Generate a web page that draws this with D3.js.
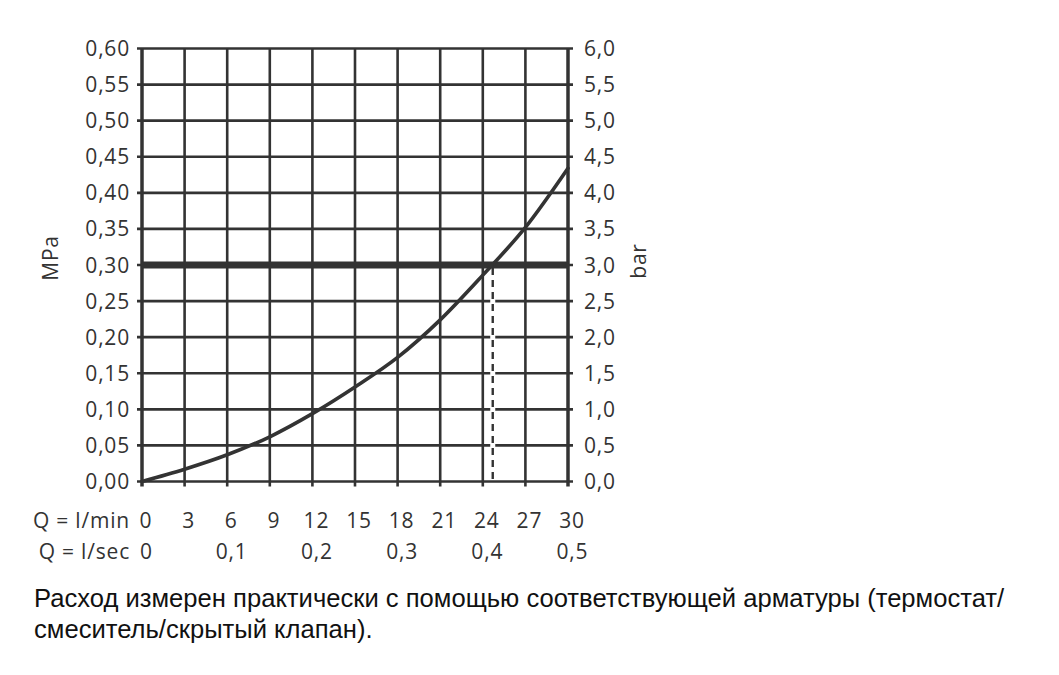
<!DOCTYPE html>
<html><head><meta charset="utf-8">
<script src="https://cdn.jsdelivr.net/npm/d3@7"></script>
<style>
html,body{margin:0;padding:0;background:#fff;}
svg{display:block;}
</style></head>
<body>
<svg id="c" width="1059" height="675"></svg>
<script>
// ---- data ----
const flowTicksLpm = [0,3,6,9,12,15,18,21,24,27,30];
const flowTicksLps = [0,0.1,0.2,0.3,0.4,0.5];
const mpaTicks = [0,0.05,0.10,0.15,0.20,0.25,0.30,0.35,0.40,0.45,0.50,0.55,0.60];
const barTicks = [0,0.5,1.0,1.5,2.0,2.5,3.0,3.5,4.0,4.5,5.0,5.5,6.0];
const curveFlow = [0,3,6,9,12,15,18,21,24,27,30];
const curvePressure = [0,0.017,0.037,0.062,0.094,0.131,0.172,0.224,0.286,0.352,0.434];
const refPressure = [0.30];
const refFlow = [24.7];
const caption = ["Расход измерен практически с помощью соответствующей арматуры (термостат/",
                 "смеситель/скрытый клапан)."];

// ---- layout ----
const L = 142, R = 568, T = 48.5, B = 481.5;
const svg = d3.select("#c");
const x = d3.scaleLinear().domain([0,30]).range([L,R]);
const y = d3.scaleLinear().domain([0,0.6]).range([B,T]);
const yb = d3.scaleLinear().domain([0,6]).range([B,T]);
const xs = d3.scaleLinear().domain([0,0.5]).range([L,R]);
const ink = "#333";
const font = "'Open Sans', sans-serif";
const comma = s => s.replace(".", ",");

// grid
const g = svg.append("g");
g.selectAll("line.v").data(flowTicksLpm).join("line")
  .attr("x1", d=>x(d)).attr("x2", d=>x(d)).attr("y1", T).attr("y2", B+5)
  .attr("stroke", ink).attr("stroke-width", d => (d===0||d===30)?3.5:2.6);
g.selectAll("line.h").data(mpaTicks).join("line")
  .attr("x1", L-5).attr("x2", R+5).attr("y1", d=>y(d)).attr("y2", d=>y(d))
  .attr("stroke", ink).attr("stroke-width", 2.6);

// reference lines
g.selectAll("line.ref").data(refPressure).join("line")
  .attr("x1", L).attr("x2", R).attr("y1", d=>y(d)).attr("y2", d=>y(d))
  .attr("stroke", ink).attr("stroke-width", 7);
g.selectAll("line.dash").data(refFlow).join("line")
  .attr("x1", d=>x(d)).attr("x2", d=>x(d)).attr("y1", y(refPressure[0])+4).attr("y2", B-2)
  .attr("stroke", "#fff").attr("stroke-width", 5);
g.selectAll("line.dash2").data(refFlow).join("line")
  .attr("x1", d=>x(d)).attr("x2", d=>x(d)).attr("y1", y(refPressure[0])+3).attr("y2", B)
  .attr("stroke", ink).attr("stroke-width", 2.4).attr("stroke-dasharray", "7,5");

// curve
const pts = curveFlow.map((f,i)=>[f, curvePressure[i]]);
g.append("path").datum(pts)
  .attr("d", d3.line().x(d=>x(d[0])).y(d=>y(d[1])).curve(d3.curveMonotoneX))
  .attr("fill","none").attr("stroke", ink).attr("stroke-width", 3.6).attr("stroke-linecap","round");

// axes labels
const txt = svg.append("g").attr("font-family", font).attr("font-size", 21)
  .attr("letter-spacing", 0.8).attr("fill", "#333");
txt.selectAll("text.yl").data(mpaTicks).join("text")
  .attr("x", 130).attr("y", d=>y(d)+7.5).attr("text-anchor","end")
  .text(d=>comma(d.toFixed(2)));
txt.selectAll("text.yr").data(barTicks).join("text")
  .attr("x", 584).attr("y", d=>yb(d)+7.5).attr("text-anchor","start")
  .text(d=>comma(d.toFixed(1)));
txt.selectAll("text.x1").data(flowTicksLpm).join("text")
  .attr("x", d=>x(d)+4).attr("y", 528).attr("text-anchor","middle")
  .text(d=>String(d));
txt.selectAll("text.x2").data(flowTicksLps).join("text")
  .attr("x", d=>xs(d)+4.5).attr("y", 559).attr("text-anchor","middle")
  .text(d=>d===0?"0":comma(d.toFixed(1)));
txt.append("text").attr("x", 130).attr("y", 528).attr("text-anchor","end").text("Q = l/min");
txt.append("text").attr("x", 130).attr("y", 559).attr("text-anchor","end").text("Q = l/sec");
txt.append("text").attr("transform","translate(58,258) rotate(-90)").attr("text-anchor","middle").text("MPa");
txt.append("text").attr("transform","translate(646,261) rotate(-90)").attr("text-anchor","middle").text("bar");

// caption
svg.append("g").attr("font-family","'Liberation Sans', Arial, sans-serif").attr("font-size", 25.6).attr("fill","#111")
  .selectAll("text").data(caption).join("text")
  .attr("x", 34).attr("y", (d,i)=>607+i*31).text(d=>d);
</script>
</body></html>
